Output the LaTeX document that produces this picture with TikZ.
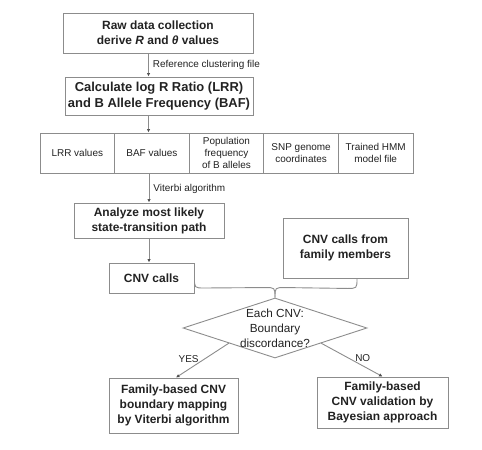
\documentclass[tikz,border=0pt]{standalone}
\usepackage{fontspec}
\setmainfont{Liberation Sans}
\usetikzlibrary{arrows.meta,shapes.geometric}
\definecolor{linegray}{HTML}{8C8C8C}
\definecolor{txt}{HTML}{222222}
\begin{document}
\begin{tikzpicture}[x=1bp,y=-1bp,
  box/.style={draw=linegray, line width=0.9bp, text=txt, align=center, inner sep=0pt,
    font=\bfseries\fontsize{12}{15}\selectfont},
  cell/.style={draw=linegray, line width=0.9bp, text=txt, align=center, inner sep=0pt,
    minimum width=74.6bp, minimum height=40bp, font=\fontsize{10}{11.7}\selectfont},
  lbl/.style={text=txt, inner sep=0pt, font=\fontsize{10}{12}\selectfont},
  conn/.style={draw=linegray, line width=0.9bp},
  arr/.style={conn, -{Latex[length=3.5bp,width=3.5bp,color=txt!80]}}]
\useasboundingbox (0,0) rectangle (482,450);
\node[box, minimum width=190bp, minimum height=40bp] (b1) at (158,33)
  {Raw data collection\\derive \textit{R} and \textit{θ} values};
\node[box, minimum width=188bp, minimum height=38bp, font=\bfseries\fontsize{13}{15.5}\selectfont] (b2) at (159,96)
  {Calculate log R Ratio (LRR)\\and B Allele Frequency (BAF)};
\node[cell] (c1) at (77.3,153) {LRR values};
\node[cell] (c2) at (151.9,153) {BAF values};
\node[cell] (c3) at (226.5,153) {Population\\frequency\\of B alleles};
\node[cell] (c4) at (301.1,153) {SNP genome\\coordinates};
\node[cell] (c5) at (375.7,153) {Trained HMM\\model file};
\node[box, minimum width=150bp, minimum height=35bp] (an) at (149,220.5)
  {Analyze most likely\\state-transition path};
\node[box, minimum width=85bp, minimum height=30bp] (cnv) at (151.5,278) {CNV calls};
\node[box, minimum width=125bp, minimum height=60bp] (fam) at (345.5,248)
  {CNV calls from\\family members};
\node[diamond, draw=linegray, line width=0.9bp, minimum width=184bp, minimum height=60bp, inner sep=0pt] (d) at (275,328) {};
\node[text=txt, align=center, inner sep=0pt, font=\fontsize{11.8}{15}\selectfont] (dt) at (275,328)
  {Each CNV:\\Boundary\\discordance?};
\node[box, minimum width=129bp, minimum height=55bp] (lb) at (173.5,405.5)
  {Family-based CNV\\boundary mapping\\by Viterbi algorithm};
\node[box, minimum width=131bp, minimum height=51bp] (rb) at (382.5,402.5)
  {Family-based\\CNV validation by\\Bayesian approach};
\coordinate (ax) at (148.5,0);
\coordinate (bx) at (149,0);
\draw[arr] (b1.south -| ax) -- (b2.north -| ax)
  node[lbl, anchor=west, pos=0.5, xshift=4bp] (l1) {Reference clustering file};
\draw[arr] (b2.south -| ax) -- (c2.north -| ax);
\draw[arr] (c2.south -| bx) -- (an.north -| bx)
  node[lbl, anchor=west, pos=0.52, xshift=4bp] (l2) {Viterbi algorithm};
\draw[arr] (an.south -| bx) -- (cnv.north -| bx);
\coordinate (fb) at ([xshift=11.5bp]fam.south);
\draw[conn] (cnv.east) .. controls ([yshift=-10bp]cnv.east) .. ([xshift=10bp,yshift=-10bp]cnv.east)
  -- ([xshift=-10bp,yshift=10bp]d.north) .. controls ([yshift=10bp]d.north) .. (d.north);
\draw[conn] (fb) .. controls ([yshift=-10bp]fb) .. ([xshift=-10bp,yshift=-10bp]fb)
  -- ([xshift=10bp,yshift=10bp]d.north) .. controls ([yshift=10bp]d.north) .. (d.north);
\draw[arr] (d.south west) -- ([xshift=2.5bp]lb.north)
  node[lbl, pos=0.45, anchor=east, xshift=-6bp] (yes) {YES};
\draw[arr] (d.south east) -- (rb.north)
  node[lbl, pos=0.45, anchor=west, xshift=6bp] (no) {NO};
\end{tikzpicture}
\end{document}
